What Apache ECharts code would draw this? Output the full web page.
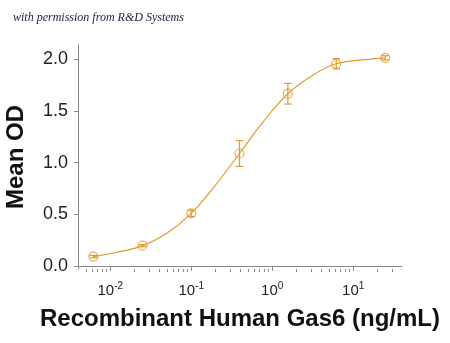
<!DOCTYPE html>
<html><head><meta charset="utf-8">
<script src="https://cdn.jsdelivr.net/npm/echarts@6/dist/echarts.min.js"></script>
<style>html,body{margin:0;padding:0;background:#fff}#c{width:450px;height:343px}</style>
</head><body><div id="c"></div>
<script>
const concentrations = [0.0062, 0.0251, 0.1, 0.394, 1.56, 6.17, 24.8];
const meanOD = [0.09, 0.196, 0.509, 1.089, 1.668, 1.958, 2.016];
const errorSD = [0.012, 0.01, 0.03, 0.125, 0.10, 0.05, 0.02];
// fitted curve
const fitX = [0.0062, 0.0121, 0.0251, 0.050, 0.1, 0.188, 0.394, 0.78, 1.56, 3.24, 6.17, 12.2, 24.8];
const fitY = [0.09, 0.132, 0.196, 0.316, 0.509, 0.757, 1.089, 1.40, 1.668, 1.852, 1.958, 1.993, 2.016];
const yTicks = [0, 0.5, 1.0, 1.5, 2.0];
const xMajorTicks = [0.01, 0.1, 1, 10];
const xMinorTicks = [0.005,0.006,0.007,0.008,0.009,0.02,0.03,0.04,0.05,0.06,0.07,0.08,0.09,0.2,0.3,0.4,0.5,0.6,0.7,0.8,0.9,2,3,4,5,6,7,8,9,20,30];
const sourceNote = 'with permission from R&D Systems';
const xTitle = 'Recombinant Human Gas6 (ng/mL)';
const yTitle = 'Mean OD';

const COLOR = '#E39A2C';
const AXIS = '#8a8a8a';
const chart = echarts.init(document.getElementById('c'), null, {renderer:'canvas'});
const expOf = v => Math.round(Math.log10(v));
chart.setOption({
  animation:false,
  backgroundColor:'#fff',
  title:{text:sourceNote,left:8,top:7,textStyle:{fontFamily:'Liberation Serif',fontStyle:'italic',fontWeight:'normal',fontSize:12,color:'#1c1c3c'}},
  grid:{left:78,right:48,top:45,bottom:74,containLabel:false,outerBoundsMode:'none'},
  xAxis:[{
    type:'log', logBase:10, min:0.004, max:40,
    name:xTitle, nameLocation:'middle', nameGap:38,
    nameTextStyle:{fontFamily:'Liberation Sans',fontWeight:'bold',fontSize:24,color:'#111'},
    axisLine:{show:true,lineStyle:{color:AXIS,width:1}},
    axisTick:{show:true,length:5,lineStyle:{color:AXIS},customValues:xMajorTicks},
    splitLine:{show:false},
    axisLabel:{customValues:xMajorTicks,margin:12,
      formatter:v=>'{b|10}{s|'+expOf(v)+'}',
      rich:{b:{fontFamily:'Liberation Sans',fontSize:15,color:'#222'},
            s:{fontFamily:'Liberation Sans',fontSize:10,color:'#222',padding:[0,0,9,0]}}}
  },{
    type:'log', logBase:10, min:0.004, max:40, position:'bottom',
    axisLine:{show:false},
    axisTick:{show:true,length:3,lineStyle:{color:AXIS},customValues:xMinorTicks},
    axisLabel:{show:false}, splitLine:{show:false}
  }],
  yAxis:{
    type:'value', min:-0.03, max:2.14,
    name:yTitle, nameLocation:'middle', nameGap:50,
    nameTextStyle:{fontFamily:'Liberation Sans',fontWeight:'bold',fontSize:24,color:'#111'},
    axisLine:{show:true,lineStyle:{color:AXIS,width:1}},
    axisTick:{show:true,length:4,lineStyle:{color:AXIS},customValues:yTicks},
    splitLine:{show:false},
    axisLabel:{customValues:yTicks,margin:10,formatter:v=>v.toFixed(1),
      fontFamily:'Liberation Sans',fontSize:18,color:'#222'}
  },
  series:[{
    type:'line',
    data:fitX.map((c,i)=>[c,fitY[i]]),
    smooth:0.4, showSymbol:false, symbol:'none',
    lineStyle:{color:COLOR,width:1.2}
  },{
    type:'scatter',
    data:concentrations.map((c,i)=>[c,meanOD[i]]),
    symbol:'circle', symbolSize:9,
    itemStyle:{color:'rgba(0,0,0,0)',borderColor:COLOR,borderWidth:1.2}
  },{
    type:'custom',
    data:concentrations.map((c,i)=>[c,meanOD[i]-errorSD[i],meanOD[i]+errorSD[i]]),
    encode:{x:0,y:[1,2]},
    renderItem:(params,api)=>{
      const lo=api.coord([api.value(0),api.value(1)]);
      const hi=api.coord([api.value(0),api.value(2)]);
      const w=3.8, st={stroke:COLOR,lineWidth:1.2};
      return {type:'group',children:[
        {type:'line',shape:{x1:lo[0],y1:lo[1],x2:hi[0],y2:hi[1]},style:st},
        {type:'line',shape:{x1:lo[0]-w,y1:lo[1],x2:lo[0]+w,y2:lo[1]},style:st},
        {type:'line',shape:{x1:hi[0]-w,y1:hi[1],x2:hi[0]+w,y2:hi[1]},style:st}
      ]};
    }
  }]
});
</script></body></html>
